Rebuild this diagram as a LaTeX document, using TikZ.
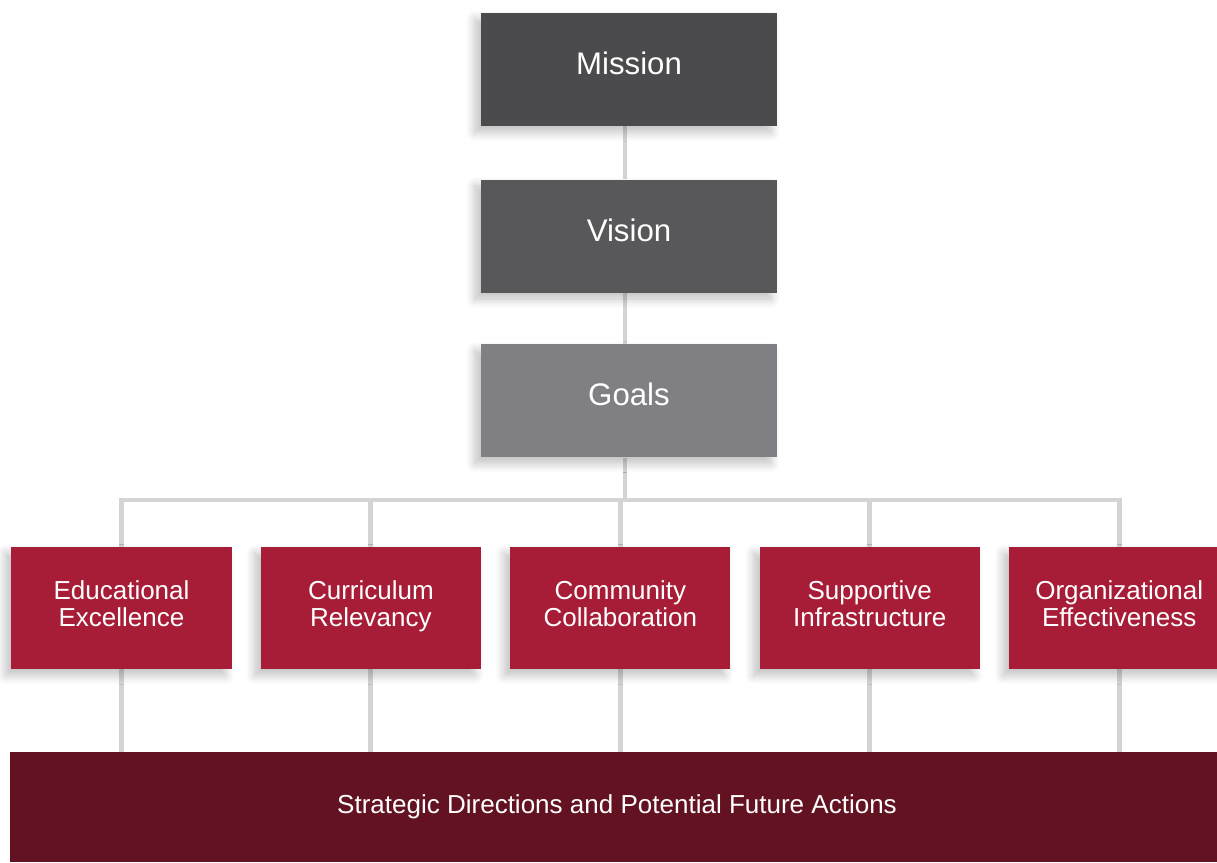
\documentclass[tikz,border=0pt]{standalone}
\usepackage{fontspec}
\setmainfont{Liberation Sans}
\usetikzlibrary{positioning,backgrounds,shadows.blur}
\definecolor{slate}{HTML}{4B4B4D}
\definecolor{ash}{HTML}{58585A}
\definecolor{stone}{HTML}{808084}
\definecolor{crimson}{HTML}{A71C36}
\definecolor{maroon}{HTML}{631221}
\definecolor{rail}{HTML}{D4D4D4}
\tikzset{softshadow/.style={blur shadow={shadow xshift=-1.5mm,shadow yshift=-1.6mm,shadow blur radius=2.2mm,shadow blur steps=10,shadow opacity=25}},tier/.style={text=white,inner sep=0pt,minimum width=7.4cm,minimum height=2.825cm,text height=16pt,text depth=8.5pt,font=\fontsize{22.2}{26}\selectfont,softshadow},pillar/.style={fill=crimson,text=white,inner sep=0pt,minimum width=5.5cm,minimum height=3.05cm,align=center,font=\fontsize{18.5}{19.2}\selectfont,execute at end node={\strut},softshadow},link/.style={draw=rail,line width=3.5pt}}

\begin{document}
\begin{tikzpicture}[x=0.025cm,y=-0.025cm,node distance=1.3cm and 0.72cm]
\useasboundingbox (0,0) rectangle (1217,862);
\node[tier,fill=slate] (mission) at (629,69.5) {Mission};
\node[tier,fill=ash,below=1.325cm of mission] (vision) {Vision};
\node[tier,fill=stone,below=1.275cm of vision] (goals) {Goals};
\node[pillar] (edu) at (121.5,608) {Educational\\Excellence};
\node[pillar,right=of edu] (cur) {Curriculum\\Relevancy};
\node[pillar,right=of cur] (com) {Community\\Collaboration};
\node[pillar,right=0.72cm of com] (sup) {Supportive\\Infrastructure};
\node[pillar,right=of sup] (org) {Organizational\\Effectiveness};
\node[fill=maroon,text=white,inner sep=0pt,minimum width=30.35cm,minimum height=2.75cm,font=\fontsize{18.5}{22}\selectfont] (actions) at (617,807) {Strategic Directions and Potential Future Actions};
\coordinate (bus) at (625,500);
\begin{scope}[on background layer]
\draw[link] (mission.south -| bus) -- (vision.north -| bus);
\draw[link] (vision.south -| bus) -- (goals.north -| bus);
\draw[link] (goals.south -| bus) -- (bus);
\foreach \p in {edu,cur,com,sup,org}{
  \draw[link] (bus) -| (\p.north);
  \draw[link] (\p.south) -- (\p.south |- actions.north);
}
\end{scope}
\end{tikzpicture}
\end{document}
